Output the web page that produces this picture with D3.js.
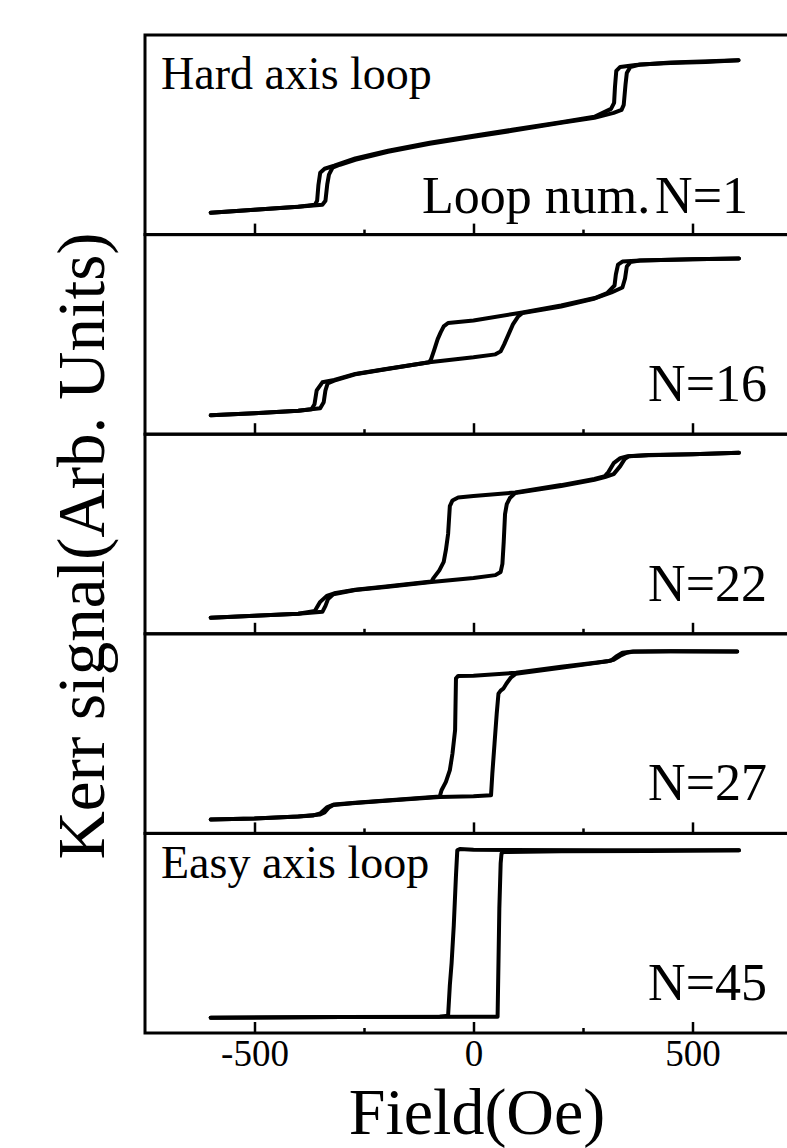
<!DOCTYPE html>
<html>
<head>
<meta charset="utf-8">
<script src="https://d3js.org/d3.v7.min.js"></script>
<style>
  body { margin: 0; background: #fff; }
</style>
</head>
<body>
<div id="chart"></div>
<script>

// tick values of the field axis (Oe)
var majorTicks = [-500, 0, 500];
var minorTicks = [-250, 250];

// loop numbers, top panel to bottom panel
var loopLabels = ["N=1", "N=16", "N=22", "N=27", "N=45"];

// Kerr signal (arb. units, 0 = panel bottom, 1 = panel top) vs field (Oe)
// "up" = field sweeping up, "down" = field sweeping down
var n1Up = [[-600,.11],[-500,.125],[-400,.14],[-345,.15],[-338,.17],[-334,.25],[-330,.3],[-322,.335],[-305,.35],[-270,.375],[-195,.415],[-100,.455],[0,.49],[88,.52],[200,.56],[276,.585],[320,.61],[338,.625],[343,.65],[347,.75],[350,.81],[358,.84],[380,.852],[450,.86],[530,.865],[605,.874]];
var n1Down = [[605,.874],[450,.862],[370,.85],[335,.84],[326,.82],[323,.74],[321,.66],[314,.63],[276,.59],[200,.563],[88,.525],[0,.495],[-100,.46],[-195,.42],[-270,.382],[-318,.345],[-340,.33],[-350,.31],[-354,.25],[-357,.17],[-362,.15],[-400,.14],[-500,.125],[-600,.11]];

var n16Up = [[-600,.095],[-500,.105],[-400,.118],[-350,.13],[-342,.16],[-338,.22],[-333,.255],[-318,.268],[-270,.3],[-200,.325],[-101,.36],[0,.385],[50,.4],[62,.415],[70,.45],[80,.5],[90,.55],[102,.59],[112,.607],[200,.64],[277,.68],[315,.71],[340,.735],[346,.78],[350,.84],[358,.862],[380,.87],[500,.877],[606,.88]];
var n16Down = [[606,.88],[500,.877],[380,.87],[340,.865],[330,.85],[325,.8],[322,.745],[305,.707],[277,.682],[200,.645],[112,.61],[0,.57],[-58,.557],[-68,.54],[-75,.51],[-82,.475],[-90,.42],[-97,.375],[-101,.36],[-200,.327],[-270,.302],[-318,.272],[-345,.26],[-358,.22],[-363,.15],[-370,.125],[-400,.118],[-500,.105],[-600,.095]];

var n22Up = [[-600,.081],[-500,.09],[-400,.1],[-345,.11],[-338,.14],[-332,.175],[-320,.198],[-270,.219],[-200,.235],[-96,.26],[0,.28],[50,.294],[62,.31],[66,.35],[69,.46],[72,.6],[76,.65],[83,.68],[95,.705],[200,.74],[276,.772],[300,.785],[320,.8],[335,.84],[345,.875],[355,.89],[400,.895],[500,.9],[606,.907]];
var n22Down = [[606,.907],[500,.9],[400,.896],[352,.89],[335,.88],[320,.855],[308,.81],[300,.79],[276,.776],[200,.745],[95,.708],[0,.69],[-35,.683],[-48,.668],[-54,.64],[-58,.5],[-63,.42],[-68,.36],[-78,.318],[-91,.28],[-96,.262],[-200,.237],[-270,.221],[-318,.203],[-335,.19],[-350,.16],[-362,.115],[-400,.1],[-500,.09],[-600,.081]];

var n27Up = [[-600,.07],[-500,.075],[-400,.085],[-350,.095],[-340,.105],[-330,.13],[-320,.142],[-270,.152],[-200,.163],[-77,.182],[0,.186],[40,.191],[43,.3],[48,.45],[53,.6],[57,.7],[62,.715],[68,.725],[75,.75],[85,.78],[97,.8],[200,.83],[277,.853],[305,.862],[320,.87],[335,.89],[350,.905],[365,.911],[450,.912],[602,.911]];
var n27Down = [[602,.911],[450,.912],[360,.91],[340,.905],[325,.885],[314,.866],[305,.862],[277,.855],[200,.835],[97,.805],[0,.79],[-35,.789],[-40,.777],[-41,.65],[-42,.518],[-48,.4],[-54,.317],[-63,.258],[-73,.216],[-77,.185],[-200,.165],[-270,.154],[-318,.145],[-335,.13],[-350,.1],[-365,.09],[-400,.085],[-500,.075],[-600,.07]];

var n45Up = [[-600,.077],[-300,.08],[0,.082],[55,.082],[57,.35],[59,.625],[62,.85],[64,.9],[69,.907],[200,.91],[400,.912],[606,.915]];
var n45Down = [[606,.915],[300,.915],[0,.918],[-31,.922],[-37,.915],[-40,.79],[-45,.54],[-50,.35],[-54,.24],[-58,.087],[-77,.082],[-300,.08],[-600,.077]];

var loops = [
    { label: loopLabels[0], up: n1Up, down: n1Down },
    { label: loopLabels[1], up: n16Up, down: n16Down },
    { label: loopLabels[2], up: n22Up, down: n22Down },
    { label: loopLabels[3], up: n27Up, down: n27Down },
    { label: loopLabels[4], up: n45Up, down: n45Down }
];

var serif = "'Liberation Serif', 'Times New Roman', Times, 'DejaVu Serif', serif";

var width = 787, height = 1148;
var plotTop = 35, plotBottom = 1033;
var panelH = (plotBottom - plotTop) / loops.length;

var svg = d3.select("#chart")
    .append("svg")
    .attr("width", width)
    .attr("height", height)
    .attr("font-family", serif);

// frame runs off the right edge, like the original figure
var x = d3.scaleLinear()
    .domain([-750, 750])
    .range([145, 802]);

var y = d3.scaleLinear()
    .domain([0, 1])
    .range([panelH, 0]);

var line = d3.line()
    .x(function (d) { return x(d[0]) })
    .y(function (d) { return y(d[1]) });

var panels = svg.selectAll("g.panel")
    .data(loops)
    .enter()
    .append("g")
    .attr("class", "panel")
    .attr("transform", function (d, i) { return "translate(0," + (plotTop + i * panelH) + ")" });

// panel box
panels.append("rect")
    .attr("x", x(-750))
    .attr("y", 0)
    .attr("width", x(750) - x(-750))
    .attr("height", panelH)
    .attr("fill", "none")
    .attr("stroke", "#000")
    .attr("stroke-width", 3);

// inward ticks on the bottom of each panel
panels.append("g")
    .attr("transform", "translate(0," + panelH + ")")
    .call(d3.axisBottom(x).tickValues(majorTicks).tickSize(-11).tickSizeOuter(0).tickFormat(""))
    .call(function (g) { g.select(".domain").remove() })
    .selectAll("line").attr("stroke-width", 2.5);

panels.append("g")
    .attr("transform", "translate(0," + panelH + ")")
    .call(d3.axisBottom(x).tickValues(minorTicks).tickSize(-5).tickSizeOuter(0).tickFormat(""))
    .call(function (g) { g.select(".domain").remove() })
    .selectAll("line").attr("stroke-width", 2.5);

// both branches of each loop
panels.selectAll("path.branch")
    .data(function (d) { return [d.up, d.down] })
    .enter()
    .append("path")
    .attr("class", "branch")
    .attr("d", line)
    .attr("fill", "none")
    .attr("stroke", "#000")
    .attr("stroke-width", 4)
    .attr("stroke-linejoin", "round")
    .attr("stroke-linecap", "round");

// loop number labels
panels.append("text")
    .attr("x", function (d, i) { return i == 0 ? 748 : 767 })
    .attr("y", function (d, i) { return i == 0 ? 213 - plotTop : panelH - 33 })
    .attr("text-anchor", "end")
    .style("font-family", serif)
    .style("font-size", "52px")
    .text(function (d) { return d.label });

svg.append("text")
    .attr("x", 422).attr("y", 213)
    .style("font-family", serif)
    .style("font-size", "52px")
    .text("Loop num.");

svg.append("text")
    .attr("x", 161).attr("y", 89)
    .style("font-family", serif)
    .style("font-size", "46px")
    .text("Hard axis loop");

svg.append("text")
    .attr("x", 161).attr("y", plotTop + 4 * panelH + 45)
    .style("font-family", serif)
    .style("font-size", "46px")
    .text("Easy axis loop");

// field tick labels under the bottom panel
svg.append("g")
    .attr("transform", "translate(0," + plotBottom + ")")
    .call(d3.axisBottom(x).tickValues(majorTicks).tickSize(0).tickPadding(7).tickFormat(function (d) { return String(d) }))
    .call(function (g) { g.select(".domain").remove() })
    .selectAll("text")
    .style("font-family", serif)
    .style("font-size", "37px");

svg.append("text")
    .attr("x", 477).attr("y", 1134)
    .attr("text-anchor", "middle")
    .style("font-family", serif)
    .style("font-size", "66px")
    .text("Field(Oe)");

svg.append("text")
    .attr("transform", "translate(104," + 546 + ") rotate(-90)")
    .attr("text-anchor", "middle")
    .style("font-family", serif)
    .style("font-size", "67px")
    .text("Kerr signal(Arb. Units)");

</script>
</body>
</html>
